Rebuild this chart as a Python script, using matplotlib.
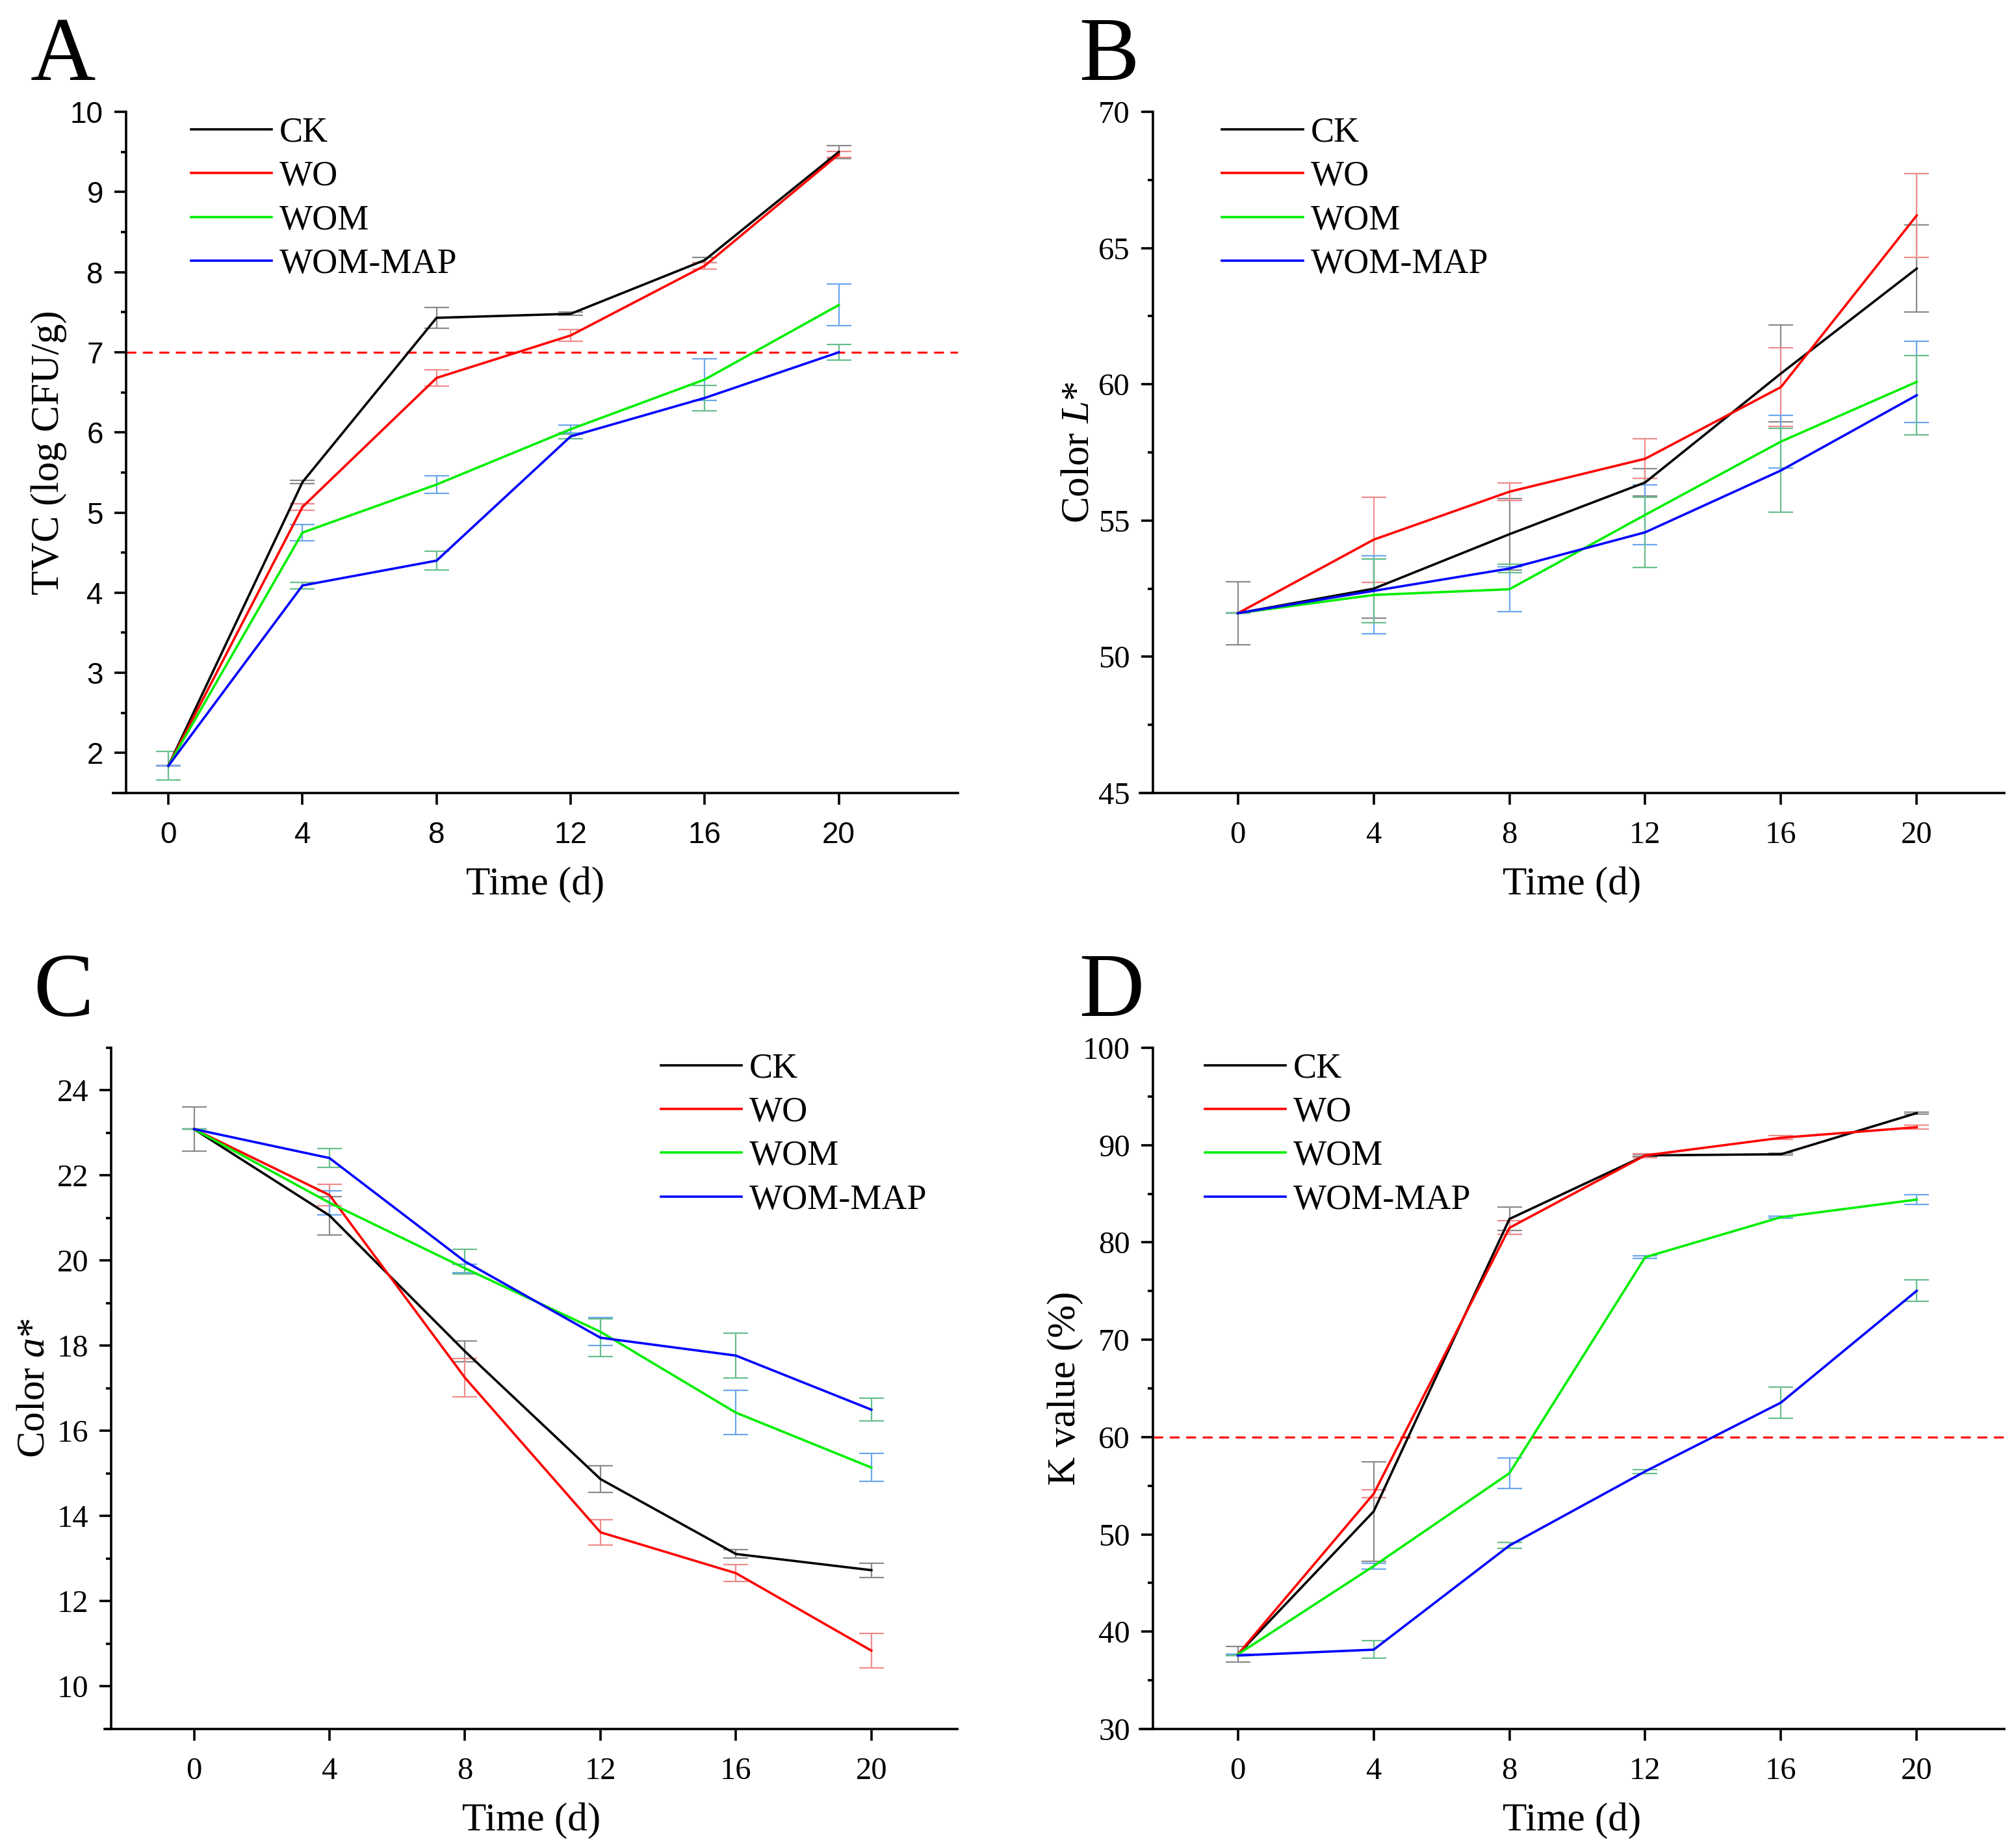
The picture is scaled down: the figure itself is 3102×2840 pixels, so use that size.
import matplotlib
matplotlib.use('Agg')
import matplotlib.pyplot as plt
import numpy as np
from matplotlib.ticker import MultipleLocator

# Шрифты: Times для подписей, Arial только для делений панели A
plt.rcParams['font.family'] = 'Liberation Serif'
plt.rcParams['mathtext.fontset'] = 'custom'
plt.rcParams['mathtext.rm'] = 'Liberation Serif'
plt.rcParams['mathtext.it'] = 'Liberation Serif:italic'

# ---- данные ----
days = [0, 4, 8, 12, 16, 20]
groups = ['CK', 'WO', 'WOM', 'WOM-MAP']
line_colors = ['#000000', '#ff0000', '#00ee00', '#0000ff']
err_colors = ['#8a8a8a', '#f08a8a', '#6aa6ee', '#66bf8c']  # у WOM и WOM-MAP цвета усов перепутаны, как в оригинале

tvc_mean = [
    [1.84, 5.38, 7.43, 7.48, 8.15, 9.50],
    [1.84, 5.07, 6.68, 7.21, 8.08, 9.47],
    [1.84, 4.75, 5.35, 6.04, 6.66, 7.59],
    [1.84, 4.09, 4.40, 5.95, 6.43, 7.00],
]
tvc_sd = [
    [0.00, 0.02, 0.13, 0.02, 0.03, 0.08],
    [0.00, 0.04, 0.10, 0.07, 0.04, 0.04],
    [0.00, 0.10, 0.11, 0.05, 0.26, 0.26],
    [0.18, 0.04, 0.12, 0.03, 0.16, 0.10],
]

L_mean = [
    [51.6, 52.5, 54.5, 56.4, 60.4, 64.25],
    [51.6, 54.3, 56.06, 57.27, 59.9, 66.2],
    [51.6, 52.27, 52.48, 55.21, 57.9, 60.09],
    [51.6, 52.42, 53.24, 54.57, 56.84, 59.6],
]
L_sd = [
    [1.15, 1.08, 1.31, 0.50, 1.78, 1.59],
    [0.00, 1.56, 0.33, 0.73, 1.44, 1.54],
    [0.00, 1.43, 0.82, 1.10, 0.97, 1.50],
    [0.00, 1.17, 0.15, 1.28, 1.54, 1.46],
]

a_mean = [
    [23.09, 21.06, 17.87, 14.87, 13.11, 12.73],
    [23.09, 21.54, 17.25, 13.62, 12.66, 10.84],
    [23.09, 21.36, 19.82, 18.33, 16.43, 15.14],
    [23.09, 22.41, 19.98, 18.19, 17.77, 16.50],
]
a_sd = [
    [0.52, 0.45, 0.24, 0.32, 0.10, 0.17],
    [0.00, 0.25, 0.45, 0.30, 0.20, 0.41],
    [0.00, 0.28, 0.10, 0.33, 0.52, 0.33],
    [0.00, 0.22, 0.29, 0.45, 0.53, 0.27],
]

k_mean = [
    [37.67, 52.36, 82.41, 88.94, 89.06, 93.29],
    [37.67, 54.17, 81.50, 88.94, 90.75, 91.84],
    [37.67, 46.74, 56.29, 78.48, 82.59, 84.40],
    [37.55, 38.15, 48.85, 56.47, 63.54, 75.03],
]
k_sd = [
    [0.80, 5.10, 1.20, 0.10, 0.10, 0.10],
    [0.00, 0.40, 0.70, 0.20, 0.20, 0.20],
    [0.00, 0.30, 1.57, 0.15, 0.10, 0.50],
    [0.00, 0.90, 0.30, 0.20, 1.60, 1.10],
]

fig = plt.figure(figsize=(15.51, 14.2), dpi=200)

panels = [
    # буква, прямоугольник осей, средние, SD, ylim, шаги делений, подпись Y, xlim, положение оси Y,
    # линия-порог, якорь легенды, шрифт делений, координаты подписи Y
    ('A', [0.0561, 0.5704, 0.4190, 0.3690], tvc_mean, tvc_sd, (1.5, 10), 1, 0.5,
     'TVC (log CFU/g)', (-1.65, 23.55), -1.27, 7, (0.092, 0.993), 'Liberation Sans', (-0.055, 0.5)),
    ('B', [0.5654, 0.5704, 0.4288, 0.3690], L_mean, L_sd, (45, 70), 5, 2.5,
     'Color $L$*', (-2.89, 22.58), -2.51, None, (0.095, 0.993), 'Liberation Serif', (-0.050, 0.5)),
    ('C', [0.0519, 0.0634, 0.4230, 0.3690], a_mean, a_sd, (9, 25), 2, 1,
     'Color $a$*', (-2.64, 22.54), -2.45, None, (0.652, 0.993), 'Liberation Serif', (-0.061, 0.5)),
    ('D', [0.5654, 0.0634, 0.4288, 0.3690], k_mean, k_sd, (30, 100), 10, 5,
     'K value (%)', (-2.89, 22.58), -2.51, 60, (0.075, 0.993), 'Liberation Serif', (-0.065, 0.5)),
]

letter_pos = {'A': (0.015, 0.9567), 'B': (0.535, 0.9567), 'C': (0.0165, 0.4496), 'D': (0.535, 0.4496)}

for (letter, rect, means, sds, ylim, ymaj, ymin, ylabel, xlim, spine_x, limit,
     leg_anchor, tick_font, ylab_xy) in panels:
    ax = fig.add_axes(rect)
    for i, g in enumerate(groups):
        ax.errorbar(days, means[i], yerr=sds[i], fmt='none', ecolor=err_colors[i],
                    elinewidth=0.8, capsize=7, capthick=0.8, zorder=1)
    for i, g in enumerate(groups):
        ax.plot(days, means[i], color=line_colors[i], lw=1.3, label=g, zorder=3)

    if limit is not None:
        ax.hlines(limit, spine_x, xlim[1], colors='#ff0000', linestyles=(0, (5, 3.3)), lw=1.1, zorder=2)

    ax.set_xlim(*xlim)
    ax.set_ylim(*ylim)
    ax.set_xticks(days)
    ax.yaxis.set_major_locator(MultipleLocator(ymaj))
    ax.yaxis.set_minor_locator(MultipleLocator(ymin))

    for s in ['top', 'right']:
        ax.spines[s].set_visible(False)
    ax.spines['left'].set_position(('data', spine_x))
    ax.spines['left'].set_linewidth(1.3)
    ax.spines['bottom'].set_linewidth(1.3)

    ax.tick_params(which='major', direction='out', length=6.5, width=1.3, labelsize=17.5, pad=6)
    ax.tick_params(axis='x', which='major', pad=9)
    ax.tick_params(which='minor', direction='out', length=3, width=1.3)
    ax.tick_params(axis='x', which='minor', bottom=False)
    for lab in ax.get_xticklabels() + ax.get_yticklabels():
        lab.set_fontfamily(tick_font)
        if tick_font == 'Liberation Sans':
            lab.set_fontsize(16.5)

    ax.set_xlabel('Time (d)', fontsize=22)
    ax.xaxis.set_label_coords(0.5, -0.108)
    ax.set_ylabel(ylabel, fontsize=22)
    ax.yaxis.set_label_coords(*ylab_xy)

    ax.legend(loc='upper left', bbox_to_anchor=leg_anchor, frameon=False, fontsize=19.5,
              handlelength=2.3, handletextpad=0.22, labelspacing=0.31,
              borderpad=0, borderaxespad=0)

    fig.text(letter_pos[letter][0], letter_pos[letter][1], letter, fontsize=50,
             va='baseline', ha='left')

fig.savefig('out.png', dpi=200, facecolor='white')
